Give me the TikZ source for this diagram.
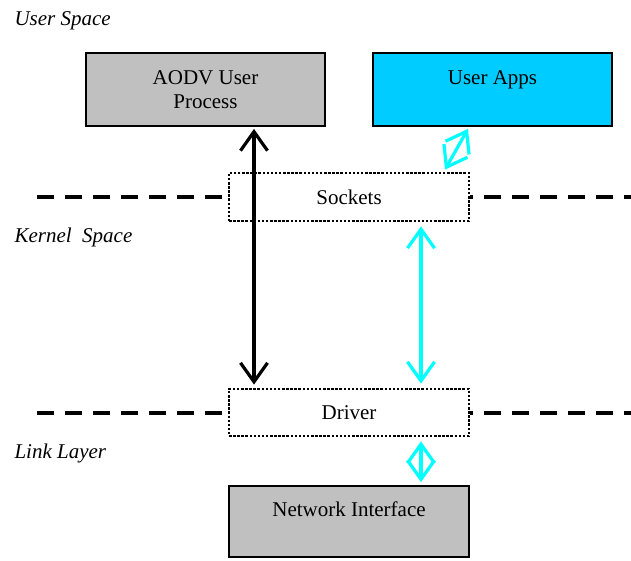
\documentclass[tikz,border=0pt]{standalone}
\usepackage{fontspec}
\setmainfont{Liberation Serif}
\usetikzlibrary{arrows.meta,positioning,calc}

\definecolor{boxgray}{RGB}{192,192,192}
\definecolor{appcyan}{RGB}{0,204,255}
\definecolor{linkcyan}{RGB}{0,255,255}

\newcommand{\diafont}{\fontsize{21}{24}\selectfont}

\tikzset{
  solidbox/.style={draw, line width=1.8pt, minimum width=239pt, minimum height=73pt, inner sep=0pt, align=center},
  dotbox/.style={draw, line width=2.8pt, dash pattern=on 2.5pt off 1.6pt, fill=white, minimum width=240pt, minimum height=48pt, inner sep=0pt},
  layerline/.style={line width=4pt, dash pattern=on 17pt off 11pt},
  layertext/.style={anchor=west, font=\diafont\itshape},
  dbl/.style={{Straight Barb[length=19pt,width=27pt]}-{Straight Barb[length=19pt,width=27pt]}, line width=3.2pt},
}

\begin{document}
\begin{tikzpicture}[x=1pt, y=-1pt, font=\diafont]

% Page
\fill[white] (0,0) rectangle (631,561);
\useasboundingbox (0,0) rectangle (631,561);

% Layer names
\node[layertext] (userspace) at (11,21) {User Space};
\node[layertext] (kernelspace) at (11,237) {Kernel\ \ Space};
\node[layertext] (linklayer) at (11,453) {Link Layer};

% User space boxes
\node[solidbox, fill=boxgray] (aodv) at (205.5,89.5) {AODV User\\Process};
\node[solidbox, fill=appcyan] (apps) at (492.5,89.5) {};
\node (appstext) at ($(apps.north)+(0,28)$) {User Apps};

% Kernel boxes
\node[dotbox] (sockets) at (349,197) {Sockets};
\node[dotbox, minimum height=47pt] (driver) at (349,412.5) {Driver};

% Hardware
\node[solidbox, fill=boxgray, minimum width=240pt, minimum height=71pt] (nic) at (349,521.5) {};
\node (nictext) at ($(nic.north)+(0,24)$) {Network Interface};

% Layer borders
\coordinate (leftend) at (37,0);
\coordinate (rightend) at (631,0);
\draw[layerline] (sockets.west -| leftend) -- (sockets.west);
\draw[layerline, dash phase=14pt] (sockets.east) -- (sockets.east -| rightend);
\draw[layerline] (driver.west -| leftend) -- (driver.west);
\draw[layerline, dash phase=14pt] (driver.east) -- (driver.east -| rightend);

% Links
\coordinate (aodvx) at (254,0);
\coordinate (cyanx) at (421,0);
\draw[dbl, shorten <=2pt, shorten >=3pt] (aodv.south -| aodvx) -- (driver.north -| aodvx);
\draw[dbl, linkcyan, shorten <=4pt, shorten >=4pt] (sockets.south -| cyanx) -- (driver.north -| cyanx);
\draw[dbl, linkcyan] ($(sockets.north)+(96,-2)$) -- ($(apps.south)+(-24.5,2)$);
\draw[dbl, linkcyan, shorten <=4pt, shorten >=3pt] (driver.south -| cyanx) -- (nic.north -| cyanx);

\end{tikzpicture}
\end{document}
